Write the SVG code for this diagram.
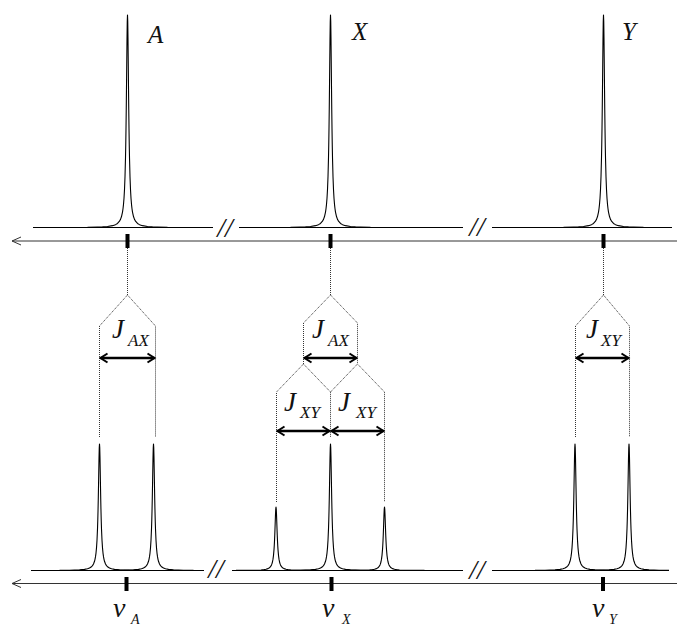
<svg xmlns="http://www.w3.org/2000/svg" xmlns:xlink="http://www.w3.org/1999/xlink" width="677" height="626" viewBox="0 0 677 626">
<style>
.spec{fill:none;stroke:#000;stroke-width:1.1;stroke-linejoin:round}
.pk{fill:none;stroke:#000;stroke-width:1.1;stroke-linejoin:round;vector-effect:non-scaling-stroke}
.axis{fill:none;stroke:#333;stroke-width:1}
.tick{fill:#000}
.dot{fill:none;stroke:#333;stroke-width:1;stroke-dasharray:1 1}
.jarr{fill:none;stroke:#000;stroke-width:2.4;marker-start:url(#chev);marker-end:url(#chev)}
.lab{font-family:"Liberation Serif","Times New Roman",serif;font-style:italic;fill:#111}
.brk{font-family:"Liberation Serif","Times New Roman",serif;font-style:italic;font-size:28px;letter-spacing:0px;fill:#111;text-anchor:middle}
</style>
<defs>
<path id="pk" class="pk" d="M-40,-0.00122 L-30,-0.00217 L-25,-0.00313 L-20,-0.00488 L-15,-0.00864 L-12,-0.01343 L-10,-0.0192 L-8,-0.0297 L-7,-0.0385 L-6,-0.0516 L-5,-0.0727 L-4.5,-0.0882 L-4,-0.1091 L-3.5,-0.1379 L-3,-0.1788 L-2.5,-0.2387 L-2,-0.3289 L-1.75,-0.3902 L-1.5,-0.4656 L-1.25,-0.5564 L-1,-0.6622 L-0.75,-0.777 L-0.5,-0.8869 L-0.25,-0.9691 L0,-1 L0.25,-0.9691 L0.5,-0.8869 L0.75,-0.777 L1,-0.6622 L1.25,-0.5564 L1.5,-0.4656 L1.75,-0.3902 L2,-0.3289 L2.5,-0.2387 L3,-0.1788 L3.5,-0.1379 L4,-0.1091 L4.5,-0.0882 L5,-0.0727 L6,-0.0516 L7,-0.0385 L8,-0.0297 L10,-0.0192 L12,-0.01343 L15,-0.00864 L20,-0.00488 L25,-0.00313 L30,-0.00217 L40,-0.00122"/>
<marker id="chev" viewBox="-10 -6 12 12" refX="0" refY="0" markerWidth="12" markerHeight="12" markerUnits="userSpaceOnUse" orient="auto-start-reverse">
<path d="M-7,-4.5 L0,0 L-7,4.5" fill="none" stroke="#000" stroke-width="2"/>
</marker>
</defs>

<g id="spectrum-top">
<path class="spec" d="M33,227.5 H213 M239,227.5 H463 M492,227.5 H672"/>
<use xlink:href="#pk" href="#pk" transform="translate(127.5,227.5) scale(1,212.5)"/>
<use xlink:href="#pk" href="#pk" transform="translate(330.5,227.5) scale(1,212.5)"/>
<use xlink:href="#pk" href="#pk" transform="translate(603.5,227.5) scale(1,212.5)"/>
<text class="brk" x="225" y="237">//</text>
<text class="brk" x="477" y="236">//</text>
</g>

<g id="axis-top">
<path class="axis" d="M12,241 H677 M21,237 L12,241 L21,245"/>
<rect class="tick" x="125.5" y="234" width="4" height="14"/>
<rect class="tick" x="328.5" y="234" width="4" height="14"/>
<rect class="tick" x="601.5" y="234" width="4" height="14"/>
</g>

<g id="label-A"><text class="lab" x="148" y="43" font-size="25">A</text></g>
<g id="label-X"><text class="lab" x="352" y="40" font-size="25">X</text></g>
<g id="label-Y"><text class="lab" x="622" y="40" font-size="25">Y</text></g>

<g id="connectors">
<path class="dot" d="M127.5,248 V295 M99.5,437 V326 L127.5,295 L155.5,326 V437"/>
<path class="dot" d="M330.5,248 V295 M303.5,364 V323 L330.5,295 L357.5,323 V364"/>
<path class="dot" d="M276.5,502 V392 L303.5,364 L330.5,392 V437 M330.5,392 L357.5,364 L384.5,392 V502"/>
<path class="dot" d="M603.5,248 V295 M575.5,437 V326 L603.5,295 L629.5,326 V437"/>
<line class="jarr" x1="100.5" y1="358" x2="154.5" y2="358"/>
<line class="jarr" x1="304.5" y1="358" x2="356.5" y2="358"/>
<line class="jarr" x1="277.5" y1="431" x2="329.5" y2="431"/>
<line class="jarr" x1="331.5" y1="431" x2="383.5" y2="431"/>
<line class="jarr" x1="576.5" y1="358" x2="628.5" y2="358"/>
</g>

<g id="J-AX-A"><text class="lab" x="112" y="338" font-size="27">J<tspan x="128" y="346" font-size="17">AX</tspan></text></g>
<g id="J-AX-X"><text class="lab" x="312" y="338" font-size="27">J<tspan x="328" y="346" font-size="17">AX</tspan></text></g>
<g id="J-XY-X1"><text class="lab" x="284" y="411" font-size="27">J<tspan x="300" y="418" font-size="17">XY</tspan></text></g>
<g id="J-XY-X2"><text class="lab" x="338" y="411" font-size="27">J<tspan x="356" y="418" font-size="17">XY</tspan></text></g>
<g id="J-XY-Y"><text class="lab" x="586" y="338" font-size="27">J<tspan x="601" y="346" font-size="17">XY</tspan></text></g>

<g id="spectrum-bottom">
<path class="spec" d="M31,570.5 H204 M232,570.5 H463 M492,570.5 H669"/>
<use xlink:href="#pk" href="#pk" transform="translate(99.5,570.5) scale(1,126.5)"/>
<use xlink:href="#pk" href="#pk" transform="translate(153.5,570.5) scale(1,126.5)"/>
<use xlink:href="#pk" href="#pk" transform="translate(276,570.5) scale(1,63.5)"/>
<use xlink:href="#pk" href="#pk" transform="translate(330.5,570.5) scale(1,126.5)"/>
<use xlink:href="#pk" href="#pk" transform="translate(384.5,570.5) scale(1,63.5)"/>
<use xlink:href="#pk" href="#pk" transform="translate(575,570.5) scale(1,126.5)"/>
<use xlink:href="#pk" href="#pk" transform="translate(629,570.5) scale(1,126.5)"/>
<text class="brk" x="216" y="578">//</text>
<text class="brk" x="477" y="579">//</text>
</g>

<g id="axis-bottom">
<path class="axis" d="M12,583.5 H677 M21,579.5 L12,583.5 L21,587.5"/>
<rect class="tick" x="124.5" y="577" width="4" height="14"/>
<rect class="tick" x="329.5" y="577" width="4" height="14"/>
<rect class="tick" x="601" y="577" width="4" height="14"/>
</g>

<g id="nu-A"><text class="lab" x="113" y="617" font-size="28">ν<tspan x="131" y="624" font-size="14">A</tspan></text></g>
<g id="nu-X"><text class="lab" x="322" y="617" font-size="28">ν<tspan x="342" y="624" font-size="14">X</tspan></text></g>
<g id="nu-Y"><text class="lab" x="592" y="617" font-size="28">ν<tspan x="609" y="624" font-size="14">Y</tspan></text></g>
</svg>
